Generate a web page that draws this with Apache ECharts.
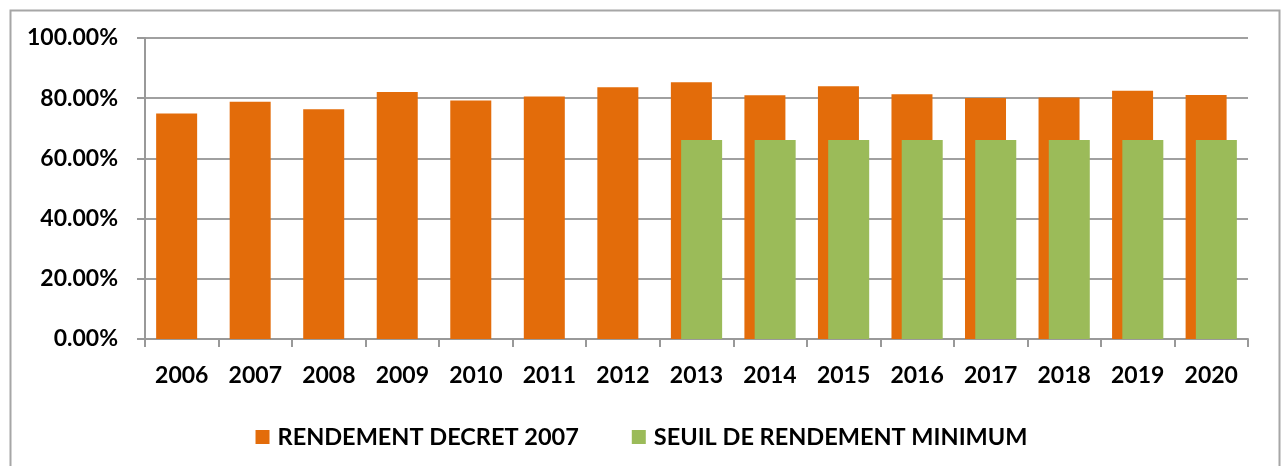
<!DOCTYPE html>
<html>
<head>
<meta charset="utf-8">
<script src="https://cdn.jsdelivr.net/npm/echarts@6/dist/echarts.min.js"></script>
<style>
html,body{margin:0;padding:0;background:#fff;}
#c{width:1283px;height:466px;}
</style>
</head>
<body>
<div id="c"></div>
<script>
const years = ['2006','2007','2008','2009','2010','2011','2012','2013','2014','2015','2016','2017','2018','2019','2020'];
const rendementDecret = [0.749,0.788,0.763,0.821,0.792,0.806,0.836,0.853,0.810,0.840,0.813,0.801,0.802,0.825,0.811];
const seuilMinimum = [null,null,null,null,null,null,null,0.661,0.661,0.661,0.661,0.661,0.661,0.661,0.661];
const seriesNames = ['RENDEMENT DECRET 2007','SEUIL DE RENDEMENT MINIMUM'];

const chart = echarts.init(document.getElementById('c'), null, {renderer:'canvas'});
const font = 'Lato';
chart.setOption({
  animation:false,
  backgroundColor:'#ffffff',
  graphic:[{
    type:'rect', left:8, top:8, z:-1,
    shape:{x:0,y:0,width:1269,height:480},
    style:{fill:'none', stroke:'#a6a6a6', lineWidth:2}
  }],
  grid:{left:145, right:35, top:38, bottom:127, containLabel:false},
  legend:{
    data:seriesNames,
    top:420, left:'center',
    itemWidth:14, itemHeight:14, itemGap:53,
    icon:'rect',
    textStyle:{fontFamily:font, fontWeight:'bold', fontSize:23.5, color:'#000', padding:[0,0,0,3]}
  },
  xAxis:{
    type:'category', data:years,
    axisLine:{lineStyle:{color:'#999', width:2}},
    axisTick:{show:true, length:8, lineStyle:{color:'#999', width:2}},
    axisLabel:{margin:25, fontFamily:font, fontWeight:'bold', fontSize:23, color:'#000'}
  },
  yAxis:{
    type:'value', min:0, max:1, interval:0.2,
    axisLine:{show:true, lineStyle:{color:'#999', width:2}},
    axisTick:{show:true, length:8, lineStyle:{color:'#999', width:2}},
    splitLine:{lineStyle:{color:'#a0a0a0', width:2}},
    axisLabel:{margin:27, fontFamily:font, fontWeight:'bold', fontSize:23, color:'#000',
      formatter: v => (v*100).toFixed(2)+'%'}
  },
  series:[
    {name:seriesNames[0], type:'bar', data:rendementDecret, barWidth:41, barGap:'-75%',
     itemStyle:{color:'#E36C0A'}, z:2},
    {name:seriesNames[1], type:'bar', data:seuilMinimum, barWidth:41,
     itemStyle:{color:'#9BBB59'}, z:3}
  ]
});
</script>
</body>
</html>
